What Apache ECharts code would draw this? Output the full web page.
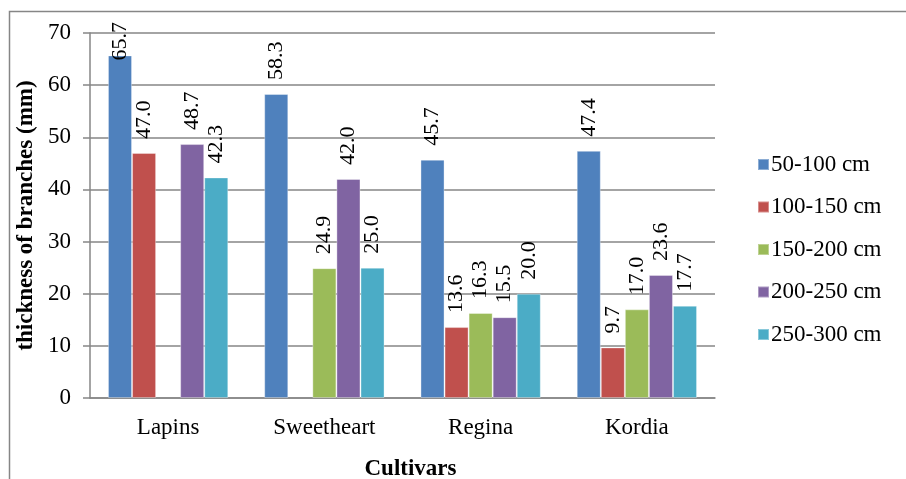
<!DOCTYPE html>
<html>
<head>
<meta charset="utf-8">
<script src="https://cdn.jsdelivr.net/npm/echarts@6/dist/echarts.min.js"></script>
<style>
html,body{margin:0;padding:0;background:#fff;}
#chart{width:906px;height:479px;}
</style>
</head>
<body>
<div id="chart"></div>
<script>
const categories = ['Lapins', 'Sweetheart', 'Regina', 'Kordia'];
const seriesNames = ['50-100 cm', '100-150 cm', '150-200 cm', '200-250 cm', '250-300 cm'];
const s50_100 = [65.7, 58.3, 45.7, 47.4];
const s100_150 = [47.0, null, 13.6, 9.7];
const s150_200 = [null, 24.9, 16.3, 17.0];
const s200_250 = [48.7, 42.0, 15.5, 23.6];
const s250_300 = [42.3, 25.0, 20.0, 17.7];
const yTicks = [0, 10, 20, 30, 40, 50, 60, 70];

const values = [s50_100, s100_150, s150_200, s200_250, s250_300];
const colors = ['#4F81BD', '#C0504D', '#9BBB59', '#8064A2', '#4BACC6'];
const FONT = '"Liberation Serif", "Times New Roman", serif';
const LABEL_TOP_LIMIT = 22;

const chart = echarts.init(document.getElementById('chart'), null, {renderer: 'canvas'});
chart.setOption({
  animation: false,
  backgroundColor: '#ffffff',
  textStyle: {fontFamily: FONT, color: '#000'},
  graphic: [{
    type: 'rect',
    shape: {x: 9.5, y: 11.5, width: 1200, height: 1200},
    style: {fill: 'none', stroke: '#868686', lineWidth: 1.5},
    silent: true
  }],
  grid: {left: 90, right: 191, top: 33, bottom: 81, containLabel: false, outerBoundsMode: 'none'},
  legend: {
    orient: 'vertical',
    left: 757,
    top: 153,
    padding: 0,
    itemWidth: 11,
    itemHeight: 11,
    itemGap: 19.5,
    icon: 'rect',
    textStyle: {fontFamily: FONT, fontSize: 23, color: '#000', lineHeight: 23, padding: [0, 0, 0, -3]},
    data: seriesNames
  },
  xAxis: {
    type: 'category',
    data: categories,
    name: 'Cultivars',
    nameLocation: 'middle',
    nameGap: 60,
    nameTextStyle: {fontFamily: FONT, fontSize: 23, fontWeight: 'bold', color: '#000', padding: [0, 0, 0, 16]},
    axisLine: {show: true, lineStyle: {color: '#868686', width: 1.5}},
    axisTick: {show: false},
    axisLabel: {fontFamily: FONT, fontSize: 23, color: '#000', margin: 18}
  },
  yAxis: {
    type: 'value',
    min: 0,
    max: 70,
    interval: 10,
    name: 'thickness of branches (mm)',
    nameLocation: 'middle',
    nameGap: 43,
    nameTextStyle: {fontFamily: FONT, fontSize: 23, fontWeight: 'bold', color: '#000'},
    axisLine: {show: true, lineStyle: {color: '#868686', width: 1.5}},
    axisTick: {show: true, inside: false, length: 7, lineStyle: {color: '#868686', width: 1.5}},
    splitLine: {show: true, lineStyle: {color: '#868686', width: 1.5}},
    axisLabel: {
      fontFamily: FONT, fontSize: 23, color: '#000', margin: 19,
      formatter: function (v) { return yTicks.indexOf(v) >= 0 ? String(v) : ''; }
    }
  },
  series: seriesNames.map(function (name, i) {
    return {
      name: name,
      type: 'bar',
      data: values[i],
      barGap: '0%',
      barCategoryGap: '23%',
      itemStyle: {color: colors[i], borderColor: 'rgba(255,255,255,0.35)', borderWidth: 1},
      label: {
        show: true,
        position: 'top',
        rotate: 90,
        align: 'left',
        verticalAlign: 'middle',
        distance: 14,
        fontFamily: FONT,
        fontSize: 22,
        color: '#000',
        formatter: function (p) { return p.value == null ? '' : Number(p.value).toFixed(1); }
      },
      labelLayout: function (params) {
        const r = params.labelRect;
        if (r && r.y < LABEL_TOP_LIMIT) {
          return {y: LABEL_TOP_LIMIT + r.height};
        }
        return {};
      }
    };
  })
});
</script>
</body>
</html>
